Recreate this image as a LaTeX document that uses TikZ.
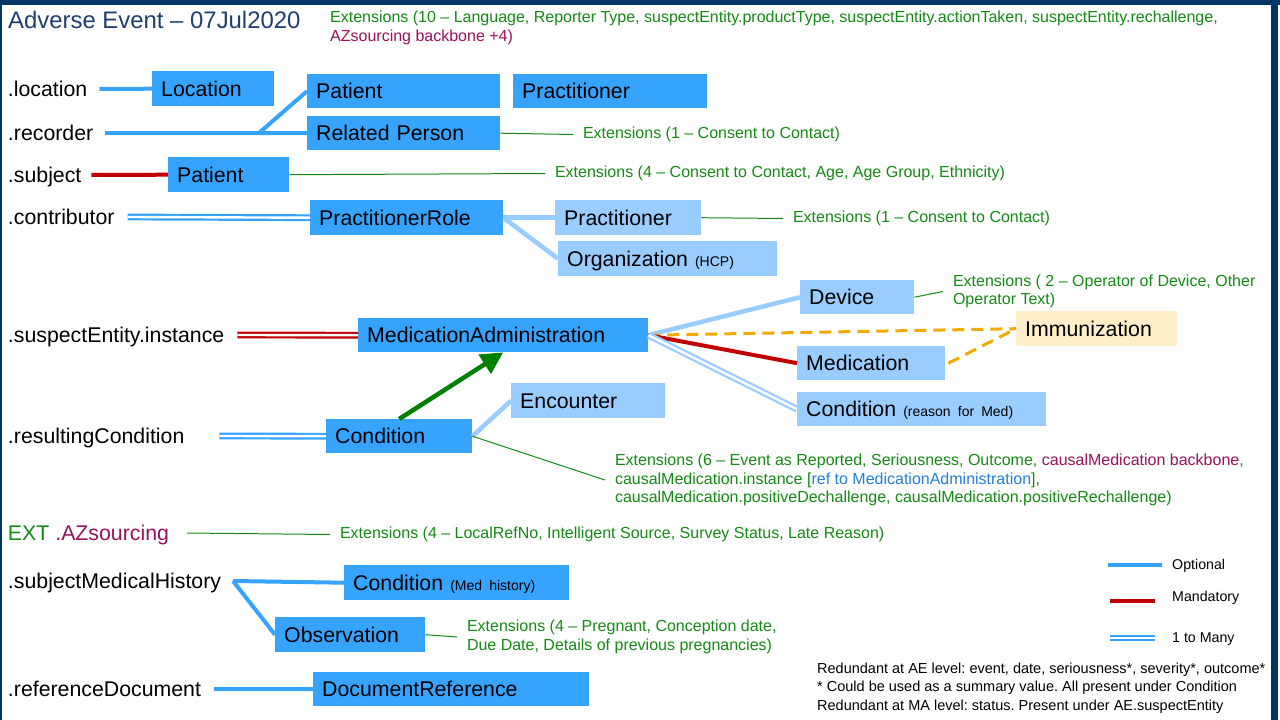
\documentclass[tikz,border=0pt]{standalone}
\usepackage{fontspec}
\setmainfont{Liberation Sans}
\usetikzlibrary{arrows.meta,calc}
\definecolor{navy}{HTML}{003764}
\definecolor{titlec}{HTML}{1F3F6E}
\definecolor{bblue}{HTML}{36A4FF}
\definecolor{lblue}{HTML}{99CCFF}
\definecolor{cream}{HTML}{FFEFC8}
\definecolor{gtext}{HTML}{138A13}
\definecolor{purp}{HTML}{99115C}
\definecolor{rtext}{HTML}{1F7FDB}
\definecolor{mred}{HTML}{C00000}
\definecolor{orng}{HTML}{F2AA00}
\definecolor{garrow}{HTML}{008000}
\newcommand{\myBig}{\fontsize{21.3}{24}\selectfont}
\newcommand{\mySmall}{\fontsize{14}{16}\selectfont}
\newcommand{\myExt}{\fontsize{16}{18.7}\selectfont}
\newcommand{\myLeg}{\fontsize{14.2}{18.3}\selectfont}
\newcommand{\myRed}{\fontsize{14.5}{18.3}\selectfont}
\tikzset{
  lbl/.style={anchor=west, inner sep=0, outer xsep=12, font=\myBig, text height=15, text depth=0},
  bx/.style={anchor=north west, fill=bblue, inner xsep=9, inner ysep=0, align=left, font=\myBig, text height=19, text depth=4},
  lbx/.style={bx, fill=lblue},
  ext/.style={anchor=west, inner sep=0, outer xsep=10, font=\myExt, text=gtext, align=left, yshift=-1.5},
  opt/.style={draw=bblue, line width=4},
  lopt/.style={draw=lblue, line width=4.5},
  mand/.style={draw=mred, line width=4},
  many/.style={draw=bblue, line width=2.2, double=white, double distance=2.4},
  lmany/.style={draw=lblue, line width=2.2, double=white, double distance=2.4},
  rmany/.style={draw=mred, line width=2.2, double=white, double distance=2.4},
  gl/.style={draw=gtext, line width=1},
  odash/.style={draw=orng, line width=3, dash pattern=on 12 off 7},
}
\begin{document}
\frenchspacing
\begin{tikzpicture}[x=1pt, y=-1pt]
\useasboundingbox (0,0) rectangle (1280,720);
% frame
\fill[navy] (0,0) rectangle (1280,5);
\fill[navy] (0,5) rectangle (1.8,720);
\fill[navy] (1271,0) rectangle (1278,720);

% title and top extensions
\node[anchor=west, inner sep=0, font=\fontsize{23.9}{27}\selectfont, text=titlec] (title) at (8,20) {Adverse Event – 07Jul2020};
\node[anchor=north west, inner sep=0, font=\myExt, text=gtext, align=left] (ext0) at (330,11) {Extensions (10 – Language, Reporter Type, suspectEntity.productType, suspectEntity.actionTaken, suspectEntity.rechallenge,\\\textcolor{purp}{AZsourcing backbone +4)}};

% labels (west anchor includes the outer gap, hence x = 8 - gap)
\node[lbl] (lloc) at (-4,89) {.location};
\node[lbl] (lrec) at (-4,133) {.recorder};
\node[lbl, outer xsep=10] (lsub) at (-2,175) {.subject};
\node[lbl, outer xsep=13] (lcon) at (-5,217) {.contributor};
\node[lbl, outer xsep=13] (lsus) at (-5,335) {.suspectEntity.instance};
\node[lbl, outer xsep=35] (lres) at (-27,436) {.resultingCondition};
\node[lbl, outer xsep=18] (laz) at (-10,533) {\textcolor{gtext}{EXT} \textcolor{purp}{.AZsourcing}};
\node[lbl] (lsmh) at (-4,581) {.subjectMedicalHistory};
\node[lbl, outer xsep=13] (lref) at (-5,689) {.referenceDocument};

% boxes
\node[bx, text width=104, minimum height=35] (loc) at (152,71) {Location};
\node[bx, text width=175, minimum height=34] (pat1) at (307,74) {Patient};
\node[bx, text width=176, minimum height=34] (prac1) at (513,74) {Practitioner};
\node[bx, text width=175, minimum height=34] (relp) at (307,116) {Related Person};
\node[bx, text width=103, minimum height=35] (pat2) at (168,157) {Patient};
\node[bx, text width=175, minimum height=35] (prole) at (310,200) {PractitionerRole};
\node[lbx, text width=128, minimum height=35] (prac2) at (555,200) {Practitioner};
\node[lbx, text width=201, minimum height=35] (org) at (558,241) {Organization {\mySmall (HCP)}};
\node[lbx, text width=96, minimum height=34] (dev) at (800,280) {Device};
\node[bx, text width=272, minimum height=34] (ma) at (358,318) {MedicationAdministration};
\node[bx, fill=cream, text width=143, minimum height=35] (imm) at (1016,311) {Immunization};
\node[lbx, text width=130, minimum height=34] (med) at (797,346) {Medication};
\node[lbx, text width=231, minimum height=34] (cond2) at (797,392) {Condition {\mySmall (reason for Med)}};
\node[lbx, text width=136, minimum height=35] (enc) at (511,383) {Encounter};
\node[bx, text width=128, minimum height=34] (cond1) at (326,419) {Condition};
\node[bx, text width=207, minimum height=35] (condmh) at (344,565) {Condition {\mySmall (Med history)}};
\node[bx, text width=132, minimum height=35] (obs) at (275,617) {Observation};
\node[bx, text width=258, minimum height=34] (docref) at (313,672) {DocumentReference};

% extension texts
\node[ext] (erelp) at (573,133) {Extensions (1 – Consent to Contact)};
\node[ext] (epat) at (545,172) {Extensions (4 – Consent to Contact, Age, Age Group, Ethnicity)};
\node[ext] (eprac) at (783,217) {Extensions (1 – Consent to Contact)};
\node[ext] (edev) at (943,290) {Extensions ( 2 – Operator of Device, Other\\Operator Text)};
\node[ext] (econd) at (605,478.5) {Extensions (6 – Event as Reported, Seriousness, Outcome, \textcolor{purp}{causalMedication backbone},\\causalMedication.instance [\textcolor{rtext}{ref to MedicationAdministration}],\\causalMedication.positiveDechallenge, causalMedication.positiveRechallenge)};
\node[ext] (eaz) at (330,533) {Extensions (4 – LocalRefNo, Intelligent Source, Survey Status, Late Reason)};
\node[ext] (eobs) at (457,635.5) {Extensions (4 – Pregnant, Conception date,\\Due Date, Details of previous pregnancies)};

% connectors
\coordinate (rj) at (259,133);
\draw[opt] (lloc.east) -- (loc.west);
\draw[opt] (lrec.east) -- (relp.west);
\draw[opt] (rj) -- (pat1.west);
\draw[gl] (relp.east) -- (erelp.west);
\draw[mand] (lsub.east) -- (pat2.west);
\draw[gl] (pat2.east) -- (epat.west);
\draw[many] (lcon.east) -- (prole.west);
\draw[lopt] (prole.east) -- (prac2.west);
\draw[lopt] (prole.east) -- (org.west);
\draw[gl] (prac2.east) -- (eprac.west);
\draw[rmany] (lsus.east) -- (ma.west);
\draw[lopt] (ma.east) -- (dev.west);
\draw[gl] (dev.east) -- (edev.west);
\draw[odash] (ma.east) -- (imm.west);
\draw[odash] ([xshift=3]med.east) -- (imm.west);
\draw[mand] (ma.east) -- (med.west);
\draw[lmany] (ma.east) -- (cond2.west);
\draw[many] (lres.east) -- (cond1.west);
\draw[garrow, line width=4.5, -{Triangle[length=22,width=22]}] ($(cond1.north west)!0.5!(cond1.north east)$) -- ($(ma.south west)!0.5!(ma.south east)$);
\draw[lopt] (cond1.east) -- (enc.west);
\draw[gl] (cond1.east) -- (econd.west);
\draw[gl] (laz.east) -- (eaz.west);
\draw[opt] (lsmh.east) -- (condmh.west);
\draw[opt] (lsmh.east) -- (obs.west);
\draw[gl] (obs.east) -- (eobs.west);
\draw[opt] (lref.east) -- (docref.west);

% legend
\coordinate (lo1) at (1108,565); \coordinate (lo2) at (1162,565);
\coordinate (lm1) at (1110,601); \coordinate (lm2) at (1155,601);
\coordinate (ln1) at (1110,638); \coordinate (ln2) at (1155,638);
\draw[opt] (lo1) -- (lo2);
\draw[mand] (lm1) -- (lm2);
\draw[many] (ln1) -- (ln2);
\node[anchor=west, inner sep=0, font=\myLeg] (tlo) at (1172,566) {Optional};
\node[anchor=west, inner sep=0, font=\myLeg] (tlm) at (1172,598) {Mandatory};
\node[anchor=west, inner sep=0, font=\myLeg] (tln) at (1172,639) {1 to Many};

\node[anchor=west, inner sep=0, font=\myRed, align=left] (red) at (817,688) {Redundant at AE level: event, date, seriousness*, severity*, outcome*\\* Could be used as a summary value. All present under Condition\\Redundant at MA level: status. Present under AE.suspectEntity};
\end{tikzpicture}
\end{document}
